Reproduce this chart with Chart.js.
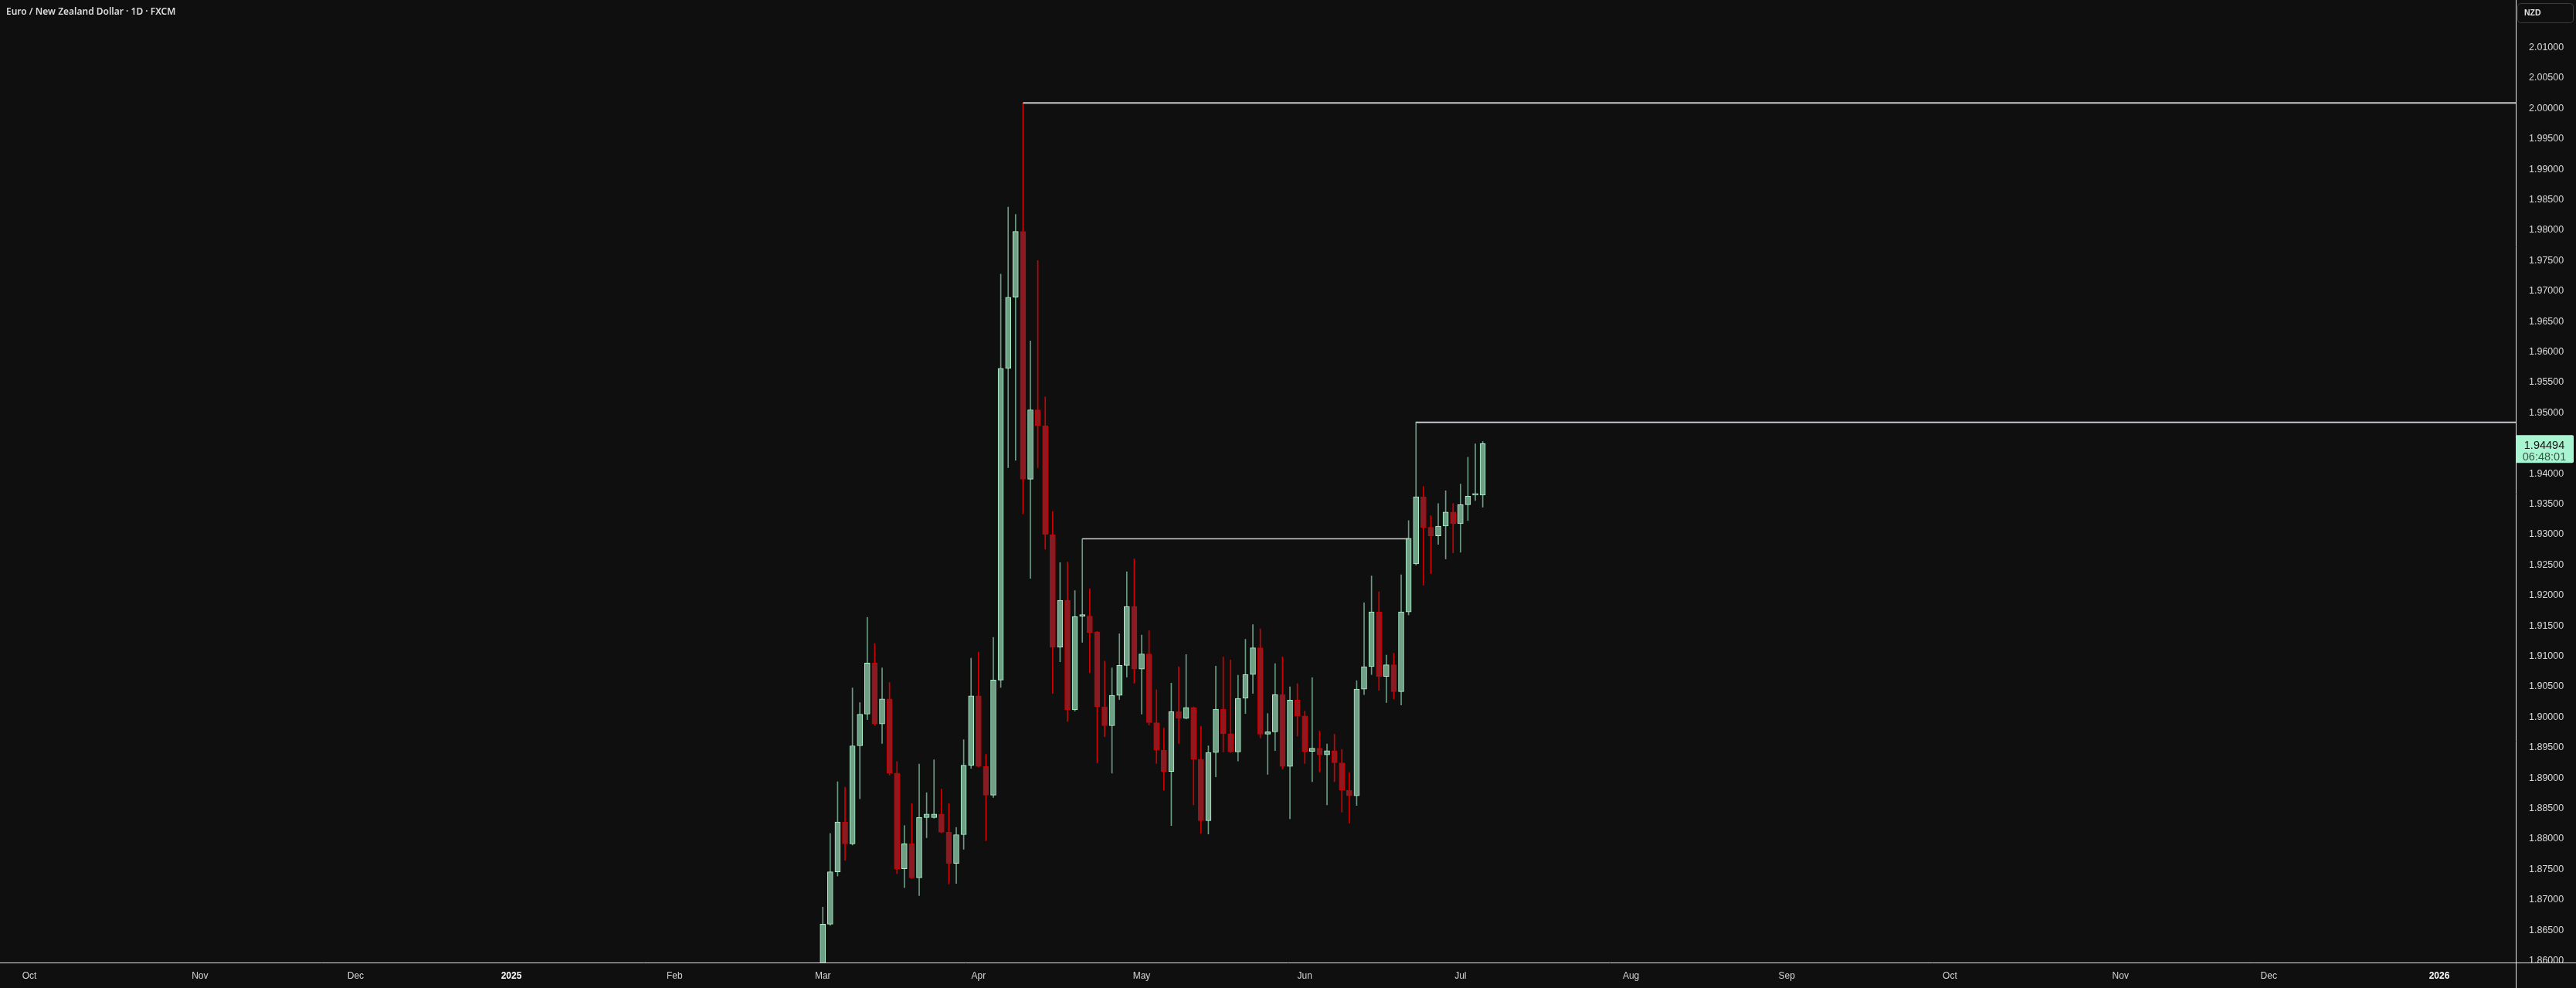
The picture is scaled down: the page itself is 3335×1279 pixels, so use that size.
<!DOCTYPE html>
<html>
<head>
<meta charset="utf-8">
<title>EURNZD 1D</title>
<script src="https://cdn.jsdelivr.net/npm/chart.js@4.4.1/dist/chart.umd.min.js"></script>
<style>
  html, body { margin: 0; padding: 0; background: #0f0f0f; }
  canvas { display: block; }
</style>
</head>
<body>
<canvas id="eurnzdChart" width="3335" height="1279"></canvas>
<script>
// Daily candles, first one is Mon 3 Mar 2025 = trading day 107 counted from 1 Oct 2024
const firstDay = 107;

const opens = [
    1.8590, 1.8660, 1.8746, 1.8828, 1.8792, 1.8953, 1.9005, 1.9089, 1.8989, 1.9030,
    1.8908, 1.8751, 1.8792, 1.8736, 1.8835, 1.8835, 1.8841, 1.8811, 1.8760, 1.8807,
    1.8921, 1.9035, 1.8919, 1.8872, 1.9061, 1.9573, 1.9690, 1.9798, 1.9391, 1.9505,
    1.9479, 1.9300, 1.9115, 1.9192, 1.9012, 1.9166, 1.9166, 1.9140, 1.9017, 1.8986,
    1.9036, 1.9085, 1.9182, 1.9079, 1.9104, 1.8991, 1.8946, 1.8911, 1.9009, 1.8998,
    1.9016, 1.8931, 1.8830, 1.8942, 1.9013, 1.8973, 1.8943, 1.9031, 1.9070, 1.9114,
    1.8972, 1.8976, 1.9037, 1.8919, 1.9028, 1.9002, 1.8944, 1.8949, 1.8938, 1.8945,
    1.8925, 1.8880, 1.8871, 1.9046, 1.9083, 1.9173, 1.9067, 1.9086, 1.9042, 1.9173,
    1.9252, 1.9362, 1.9312, 1.9298, 1.9314, 1.9337, 1.9318, 1.9349, 1.9365, 1.9365
];
const highs = [
    1.8688, 1.8809, 1.8894, 1.8885, 1.9048, 1.9024, 1.9164, 1.9121, 1.9081, 1.9057,
    1.8927, 1.8822, 1.8858, 1.8923, 1.8876, 1.8930, 1.8882, 1.8858, 1.8819, 1.8963,
    1.9097, 1.9107, 1.8939, 1.9131, 1.9728, 1.9838, 1.9826, 2.0009, 1.9618, 1.9750,
    1.9526, 1.9338, 1.9254, 1.9255, 1.9208, 1.9293, 1.9211, 1.9141, 1.9092, 1.9081,
    1.9137, 1.9239, 1.9260, 1.9135, 1.9142, 1.9045, 1.8982, 1.9056, 1.9083, 1.9103,
    1.9017, 1.8985, 1.8953, 1.9084, 1.9099, 1.9094, 1.9069, 1.9128, 1.9152, 1.9145,
    1.9006, 1.9088, 1.9099, 1.9050, 1.9055, 1.9010, 1.9065, 1.8977, 1.8956, 1.8972,
    1.8947, 1.8909, 1.9060, 1.9188, 1.9232, 1.9206, 1.9102, 1.9105, 1.9234, 1.9323,
    1.9485, 1.9379, 1.9331, 1.9351, 1.9372, 1.9351, 1.9383, 1.9427, 1.9449, 1.9453
];
const lows = [
    1.8585, 1.8658, 1.8739, 1.8765, 1.8790, 1.8866, 1.8996, 1.8987, 1.8957, 1.8905,
    1.8743, 1.8720, 1.8735, 1.8707, 1.8802, 1.8834, 1.8810, 1.8726, 1.8727, 1.8783,
    1.8916, 1.8918, 1.8797, 1.8868, 1.9049, 1.9410, 1.9422, 1.9334, 1.9228, 1.9410,
    1.9276, 1.9039, 1.9091, 1.8993, 1.9010, 1.9123, 1.9073, 1.8925, 1.8968, 1.8908,
    1.9029, 1.9066, 1.9056, 1.9005, 1.8987, 1.8924, 1.8880, 1.8822, 1.8957, 1.8997,
    1.8856, 1.8809, 1.8808, 1.8902, 1.8943, 1.8942, 1.8928, 1.9006, 1.9039, 1.8966,
    1.8906, 1.8945, 1.8915, 1.8833, 1.8969, 1.8924, 1.8894, 1.8910, 1.8856, 1.8894,
    1.8844, 1.8826, 1.8855, 1.9037, 1.9070, 1.9044, 1.9024, 1.9030, 1.9020, 1.9168,
    1.9250, 1.9217, 1.9236, 1.9284, 1.9260, 1.9270, 1.9271, 1.9323, 1.9356, 1.9345
];
const closes = [
    1.8660, 1.8746, 1.8828, 1.8792, 1.8953, 1.9005, 1.9089, 1.8989, 1.9030, 1.8908,
    1.8751, 1.8792, 1.8736, 1.8835, 1.8841, 1.8841, 1.8811, 1.8760, 1.8807, 1.8921,
    1.9035, 1.8919, 1.8872, 1.9061, 1.9573, 1.9690, 1.9798, 1.9391, 1.9505, 1.9479,
    1.9300, 1.9115, 1.9192, 1.9012, 1.9165, 1.9166, 1.9139, 1.9017, 1.8986, 1.9036,
    1.9085, 1.9182, 1.9079, 1.9104, 1.8991, 1.8946, 1.8911, 1.9009, 1.8998, 1.9016,
    1.8931, 1.8830, 1.8942, 1.9013, 1.8973, 1.8943, 1.9031, 1.9070, 1.9114, 1.8972,
    1.8976, 1.9037, 1.8919, 1.9028, 1.9002, 1.8944, 1.8949, 1.8938, 1.8945, 1.8925,
    1.8880, 1.8871, 1.9046, 1.9083, 1.9173, 1.9067, 1.9086, 1.9042, 1.9173, 1.9294,
    1.9362, 1.9312, 1.9298, 1.9314, 1.9337, 1.9318, 1.9349, 1.9363, 1.9365, 1.94494
];

// month labels, placed on the trading-day axis
const monthTicks = [0, 23, 44, 65, 87, 107, 128, 150, 172, 193, 216, 237, 259, 282, 302, 325];
const monthLabels = ['Oct', 'Nov', 'Dec', '2025', 'Feb', 'Mar', 'Apr', 'May', 'Jun', 'Jul', 'Aug', 'Sep', 'Oct', 'Nov', 'Dec', '2026'];

// price ticks (1.945 is hidden under the last price label)
const priceTicks = [1.86, 1.865, 1.87, 1.875, 1.88, 1.885, 1.89, 1.895, 1.90, 1.905,
    1.91, 1.915, 1.92, 1.925, 1.93, 1.935, 1.94, 1.95, 1.955, 1.96,
    1.965, 1.97, 1.975, 1.98, 1.985, 1.99, 1.995, 2.00, 2.005, 2.01];

// horizontal levels drawn on the chart: start candle, end candle (-1 = right edge), price
const levelFrom = [27, 35, 80];
const levelTo = [-1, 79, -1];
const levelPrice = [2.0009, 1.9293, 1.94845];

const lastPrice = 1.94494;
const countdown = '06:48:01';
const title = 'Euro / New Zealand Dollar · 1D · FXCM';

// visible window
const xMin = -3.96, xMax = 335.31;
const yMin = 1.8597, yMax = 2.01782;

const bull = { fill: '#6fa086', border: '#aef2cd', wick: '#6c9b83' };
const bear = { fill: '#8b1a22', border: '#cc0000', wick: '#d20000' };
const isUp = (i) => closes[i] >= opens[i];

const bodies = opens.map((o, i) => ({ x: firstDay + i, y: [o, closes[i]] }));
const wicks = lows.map((l, i) => ({ x: firstDay + i, y: [l, highs[i]] }));

const levelWidths = [2, 1.5, 2];
const levelSets = levelPrice.map((p, i) => ({
    type: 'line',
    data: [
        { x: firstDay + levelFrom[i], y: p },
        { x: levelTo[i] < 0 ? xMax : firstDay + levelTo[i], y: p }
    ],
    borderColor: '#c9c9cf',
    borderWidth: levelWidths[i],
    pointRadius: 0,
    tension: 0
}));

// background, title, currency button, axis frame and last price label
const decorations = {
    id: 'decorations',
    beforeDraw(chart) {
        const c = chart.ctx;
        c.save();
        c.fillStyle = '#0f0f0f';
        c.fillRect(0, 0, chart.width, chart.height);
        c.restore();
    },
    afterDraw(chart) {
        const c = chart.ctx;
        const area = chart.chartArea;
        c.save();

        // frame lines
        c.strokeStyle = '#e8e8e8';
        c.lineWidth = 1;
        c.beginPath();
        c.moveTo(0, Math.round(area.bottom) + 0.5);
        c.lineTo(chart.width, Math.round(area.bottom) + 0.5);
        c.moveTo(Math.round(area.right) + 0.5, 0);
        c.lineTo(Math.round(area.right) + 0.5, chart.height);
        c.stroke();

        // title
        c.fillStyle = '#dedede';
        c.font = '600 12px "Noto Sans", sans-serif';
        c.textBaseline = 'middle';
        c.textAlign = 'left';
        c.fillText(title, 8, 16);

        // NZD button
        c.strokeStyle = '#3c3c3c';
        c.lineWidth = 1;
        c.beginPath();
        c.roundRect(area.right + 2.5, 4.5, 72, 25, 4);
        c.stroke();
        c.fillStyle = '#e6e6e6';
        c.font = '600 10.5px "Liberation Sans", sans-serif';
        c.fillText('NZD', area.right + 11, 17.5);

        // last price label
        const py = chart.scales.y.getPixelForValue(lastPrice);
        c.fillStyle = '#aaf5d1';
        c.beginPath();
        c.roundRect(area.right, py - 11, 75, 36, 2);
        c.fill();
        c.textAlign = 'center';
        c.font = '14.5px "Liberation Sans", sans-serif';
        c.fillStyle = '#151515';
        c.fillText(lastPrice.toFixed(5), area.right + 37, py + 2.5);
        c.fillStyle = '#355846';
        c.fillText(countdown, area.right + 37, py + 17.5);
        c.restore();
    }
};

const ctx = document.getElementById('eurnzdChart').getContext('2d');

const eurnzdChart = new Chart(ctx, {
    type: 'bar',
    data: {
        datasets: [
            ...levelSets,
            {
                label: 'body',
                data: bodies,
                grouped: false,
                barThickness: 7,
                minBarLength: 2,
                borderWidth: 1,
                borderSkipped: false,
                backgroundColor: (c) => isUp(c.dataIndex) ? bull.fill : bear.fill,
                borderColor: (c) => isUp(c.dataIndex) ? bull.border : bear.border
            },
            {
                label: 'wick',
                data: wicks,
                grouped: false,
                barThickness: 1,
                borderWidth: 0,
                backgroundColor: (c) => isUp(c.dataIndex) ? bull.wick : bear.wick
            }
        ]
    },
    options: {
        responsive: false,
        animation: false,
        events: [],
        layout: { padding: 0, autoPadding: false },
        plugins: {
            legend: { display: false },
            tooltip: { enabled: false }
        },
        scales: {
            x: {
                type: 'linear',
                min: xMin,
                max: xMax,
                offset: false,
                grid: { display: false, drawTicks: false },
                border: { display: false },
                afterBuildTicks: (scale) => {
                    scale.ticks = monthTicks.map((v) => ({ value: v }));
                },
                afterFit: (scale) => {
                    scale.height = 33;
                    scale.paddingLeft = 0;
                    scale.paddingRight = 0;
                },
                ticks: {
                    autoSkip: false,
                    maxRotation: 0,
                    padding: 10,
                    callback: (value, index) => monthLabels[index],
                    color: (c) => /^\d{4}$/.test(monthLabels[c.index]) ? '#ffffff' : '#d4d4d4',
                    font: (c) => ({
                        family: '"Liberation Sans", sans-serif',
                        size: 12,
                        weight: /^\d{4}$/.test(monthLabels[c.index]) ? 'bold' : 'normal'
                    })
                }
            },
            y: {
                type: 'linear',
                position: 'right',
                min: yMin,
                max: yMax,
                grid: { display: false, drawTicks: false },
                border: { display: false },
                afterBuildTicks: (scale) => {
                    scale.ticks = priceTicks.map((v) => ({ value: v }));
                },
                afterFit: (scale) => {
                    scale.width = 78;
                    scale.paddingTop = 0;
                    scale.paddingBottom = 0;
                },
                ticks: {
                    crossAlign: 'near',
                    padding: 17,
                    color: '#dadada',
                    font: { family: '"Liberation Sans", sans-serif', size: 12.5 },
                    callback: (value) => Number(value).toFixed(5)
                }
            }
        }
    },
    plugins: [decorations]
});
</script>
</body>
</html>
